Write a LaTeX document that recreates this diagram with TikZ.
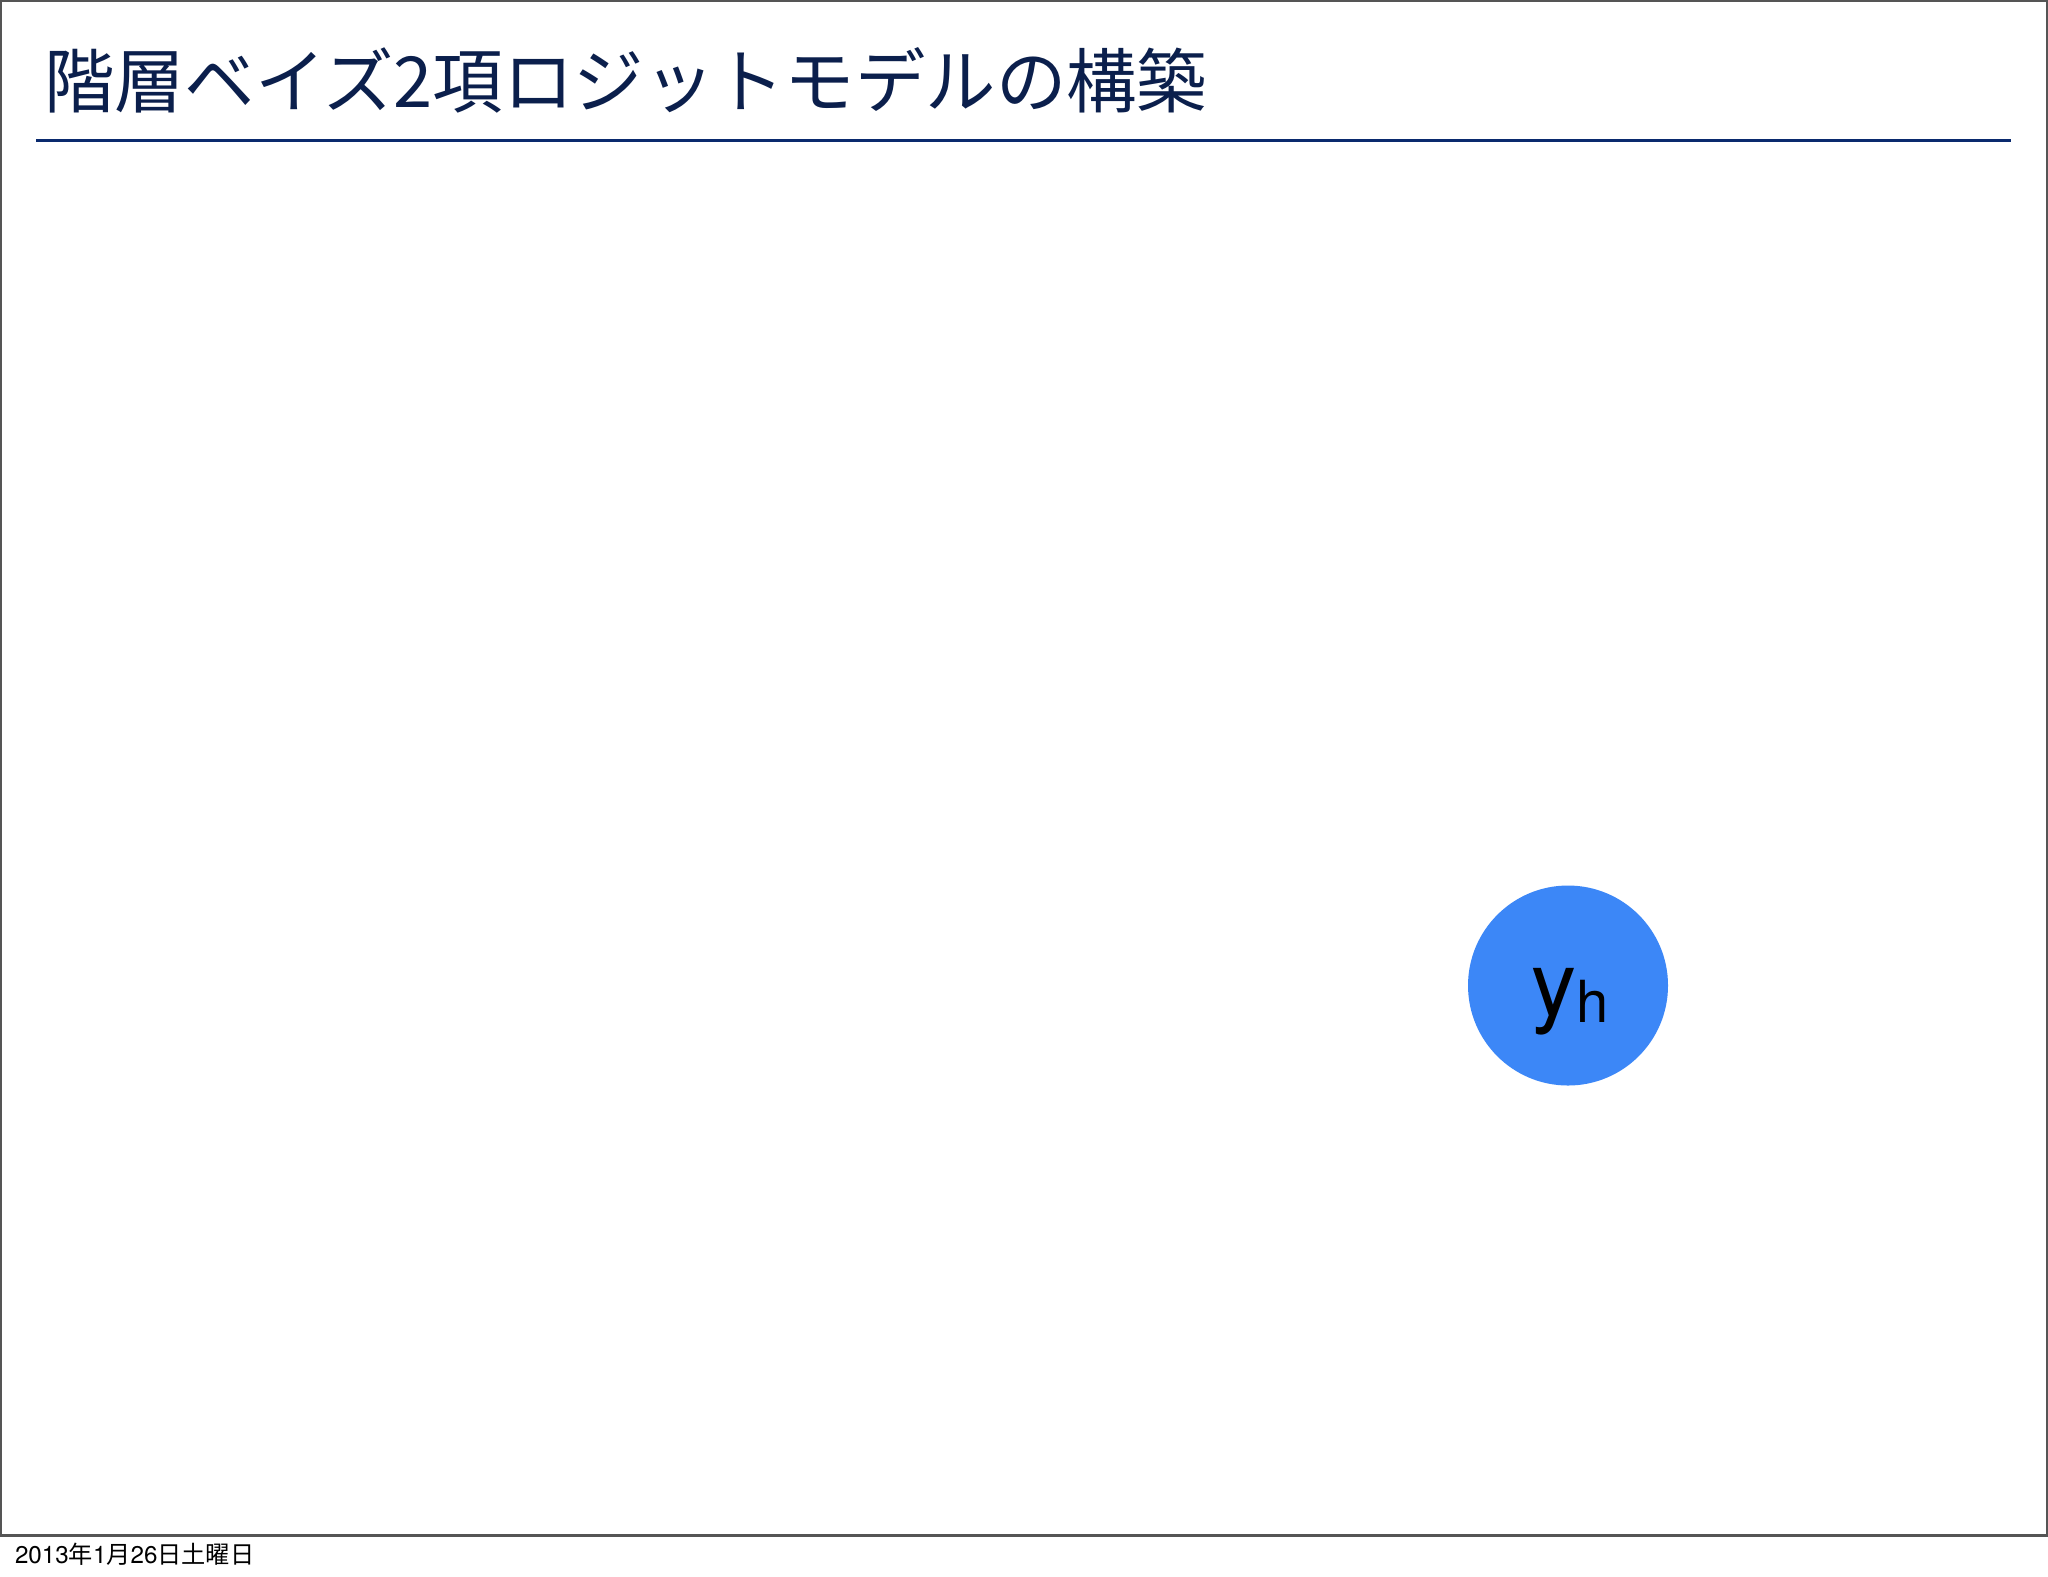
\documentclass[tikz,border=0pt]{standalone}
\usepackage{fontspec}
\newfontfamily\cjk{Noto Sans CJK JP}
\newfontfamily\helv{TeX Gyre Heros}
\definecolor{titlecol}{HTML}{0B1F4C}
\definecolor{rulecol}{HTML}{0A2A6E}
\definecolor{framecol}{HTML}{555555}
\definecolor{nodeblue}{HTML}{3C87F7}
\begin{document}
\begin{tikzpicture}[x=0.5pt,y=-0.5pt,
  frame/.style={draw=framecol,line width=1.5pt},
  titlerule/.style={draw=rulecol,line width=1.5pt},
  txt/.style={anchor=base west,inner sep=0pt,outer sep=0pt},
  varnode/.style={circle,fill=nodeblue,minimum size=100pt,inner sep=0pt}]
\useasboundingbox[fill=white] (0,0) rectangle (2048,1576);
\draw[frame] (0.75,0.75) rectangle (2047.25,1535);
\node[txt,text=titlecol] (title) at (44,107) {\cjk\fontsize{35.2}{35.2}\selectfont 階層ベイズ2項ロジットモデルの構築};
\coordinate (rl) at (36,140);
\coordinate (rr) at (2011,140);
\draw[titlerule] (rl) -- (rr);
\node[varnode] (yh) at (1568,985.5) {};
\node[txt] (ylab) at (1531,1015) {\helv\fontsize{45}{45}\selectfont y};
\node[txt] (hlab) at (1576,1022) {\helv\fontsize{29}{29}\selectfont h};
\node[txt] (date) at (15,1563) {\cjk\fontsize{12.1}{12.1}\selectfont {\helv 2013}年{\helv 1}月{\helv 26}日土曜日};
\end{tikzpicture}
\end{document}
